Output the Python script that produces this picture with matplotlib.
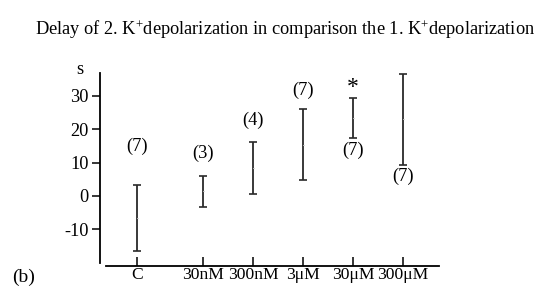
import matplotlib
matplotlib.use("Agg")
import matplotlib.pyplot as plt

plt.rcParams['font.family'] = ['Liberation Serif', 'DejaVu Serif']
plt.rcParams['mathtext.fontset'] = 'custom'
plt.rcParams['mathtext.rm'] = 'Liberation Serif'
plt.rcParams['mathtext.it'] = 'Liberation Serif:italic'

# data
categories = ["C", "30nM", "300nM", "3\u03bcM", "30\u03bcM", "300\u03bcM"]
x_pos = [-0.32, 1, 2, 3, 4, 5]
low = [-16.6, -3.2, 0.6, 4.8, 17.3, 9.3]
high = [3.2, 6.0, 16.1, 26.0, 29.5, 36.6]
mean = [-6.7, 1.4, 8.4, 15.4, 23.4, 23.0]
n_labels = ["(7)", "(3)", "(4)", "(7)", "(7)", "(7)"]
n_label_y = [14.8, 12.9, 22.6, 31.6, 13.8, 6.0]
star_y = 32.5
y_ticks = [-10, 0, 10, 20, 30]

W, H = 537, 287
fig = plt.figure(figsize=(W / 100, H / 100), dpi=100)
ax = fig.add_axes([100 / W, (H - 266) / H, 339 / W, 193 / H])

for xp, lo, hi, m in zip(x_pos, low, high, mean):
    ax.errorbar([xp], [(lo + hi) / 2], yerr=[[(hi - lo) / 2], [(hi - lo) / 2]],
                fmt='none', ecolor='#2a2a2a', elinewidth=1.3, capsize=2.8, capthick=1.2)
    ax.plot([xp - 0.01, xp + 0.01], [m, m], color='#cccccc', lw=0.6)

for xp, lab, ly in zip(x_pos, n_labels, n_label_y):
    ax.text(xp, ly, lab, ha='center', va='center', fontsize=13.2)
ax.text(x_pos[4], star_y, "*", ha='center', va='center', fontsize=17)

ax.set_xlim(-1.06, 5.72)
ax.set_ylim(-21, 36.9)
ax.set_xticks(x_pos)
ax.set_xticklabels(categories, fontsize=12.6)
ax.set_yticks(y_ticks)
ax.set_yticklabels([str(t) for t in y_ticks], fontsize=13.2)

for s in ['top', 'right']:
    ax.spines[s].set_visible(False)
ax.spines['left'].set_bounds(-20.1, 36.9)
ax.spines['bottom'].set_bounds(-0.94, 5.72)
ax.spines['left'].set_linewidth(1.3)
ax.spines['bottom'].set_linewidth(1.3)
ax.tick_params(axis='x', direction='in', length=6.5, width=1.1, pad=0.5)
ax.tick_params(axis='y', direction='out', length=6, width=1.1, pad=2)
ax.patch.set_alpha(0)

fig.text(80 / W, 1 - 70 / H, "s", ha='center', va='center', fontsize=13.2)
fig.text(24 / W, 1 - 277 / H, "(b)", ha='center', va='center', fontsize=14)
fig.text(35 / W, 1 - 30 / H,
         r"Delay of 2. K$^{+}$depolarization in comparison the 1. K$^{+}$depolarization",
         ha='left', va='center', fontsize=13.2)

fig.savefig("out.png", dpi=100)
